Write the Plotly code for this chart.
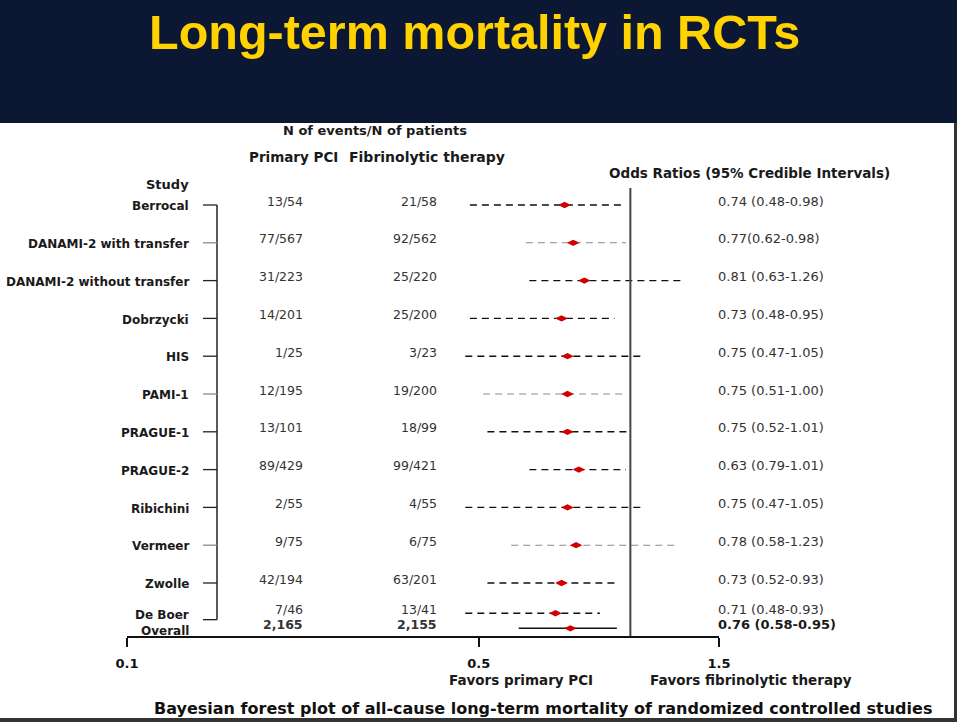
import math
import plotly.graph_objects as go

# ---------------- data ----------------
studies = ["Berrocal", "DANAMI-2 with transfer", "DANAMI-2 without transfer", "Dobrzycki",
           "HIS", "PAMI-1", "PRAGUE-1", "PRAGUE-2", "Ribichini", "Vermeer", "Zwolle",
           "De Boer", "Overall"]
pci_events = ["13/54", "77/567", "31/223", "14/201", "1/25", "12/195", "13/101", "89/429",
              "2/55", "9/75", "42/194", "7/46", "2,165"]
fib_events = ["21/58", "92/562", "25/220", "25/200", "3/23", "19/200", "18/99", "99/421",
              "4/55", "6/75", "63/201", "13/41", "2,155"]
or_point = [0.74, 0.77, 0.81, 0.73, 0.75, 0.75, 0.75, 0.79, 0.75, 0.78, 0.73, 0.71, 0.76]
or_lower = [0.48, 0.62, 0.63, 0.48, 0.47, 0.51, 0.52, 0.63, 0.47, 0.58, 0.52, 0.47, 0.60]
or_upper = [0.98, 0.98, 1.26, 0.93, 1.07, 0.98, 1.00, 0.98, 1.07, 1.23, 0.93, 0.87, 0.94]
or_labels = ["0.74 (0.48-0.98)", "0.77(0.62-0.98)", "0.81 (0.63-1.26)", "0.73 (0.48-0.95)",
             "0.75 (0.47-1.05)", "0.75 (0.51-1.00)", "0.75 (0.52-1.01)", "0.63 (0.79-1.01)",
             "0.75 (0.47-1.05)", "0.78 (0.58-1.23)", "0.73 (0.52-0.93)", "0.71 (0.48-0.93)",
             "0.76 (0.58-0.95)"]
tick_vals = [0.1, 0.5, 1.5]
tick_text = ["0.1", "0.5", "1.5"]

# ---------------- layout helpers ----------------
W, H = 957, 722
ROW0, ROWH = 205.0, 37.8
def px(x):
    return x / W
def py(y):
    return 1 - y / H
def row_of(ypix):
    return (ypix - ROW0) / ROWH

n_std = 12
rows = list(range(11)) + [10.8, 11.2]
label_rows = [r + 0.03 for r in range(11)] + [10.84, 11.27]
gray_rows = {1, 5, 9}
FONT = "DejaVu Sans"
TXT = "#1a1a1a"
NUM = "#333333"

fig = go.Figure()

# CI lines
for i in range(len(studies)):
    if i == len(studies) - 1:
        line = dict(color="#111111", width=1.5, dash="solid")
    elif i in gray_rows:
        line = dict(color="#8a8a8a", width=1.1, dash="7px,5px")
    else:
        line = dict(color="#111111", width=1.4, dash="7px,5px")
    fig.add_trace(go.Scatter(x=[or_lower[i], or_upper[i]], y=[rows[i], rows[i]],
                             mode="lines", line=line, hoverinfo="skip", showlegend=False))

# reference line at OR = 1
fig.add_trace(go.Scatter(x=[1, 1], y=[row_of(188), row_of(637)], mode="lines",
                         line=dict(color="#444444", width=2), hoverinfo="skip",
                         showlegend=False))

# point estimates
fig.add_trace(go.Scatter(x=or_point, y=rows, mode="markers",
                         marker=dict(symbol="diamond-wide", size=9, color="#d10000",
                                     line=dict(width=0)),
                         hovertext=studies, showlegend=False))

shapes = []
# navy title band
shapes.append(dict(type="rect", xref="paper", yref="paper", x0=0, x1=1, y0=py(123), y1=1,
                   fillcolor="#0b1733", line=dict(width=0), layer="below"))
# bottom / right borders
shapes.append(dict(type="rect", xref="paper", yref="paper", x0=0, x1=1, y0=0, y1=py(718),
                   fillcolor="#333333", line=dict(width=0)))
shapes.append(dict(type="rect", xref="paper", yref="paper", x0=px(954), x1=1, y0=0, y1=py(123),
                   fillcolor="#333333", line=dict(width=0)))
# study bracket
shapes.append(dict(type="line", xref="paper", yref="y", x0=px(217), x1=px(217),
                   y0=rows[0], y1=10.97, line=dict(color="#222222", width=1.5)))
for i in range(n_std):
    yy = 10.97 if i == n_std - 1 else rows[i]
    col = "#8a8a8a" if i in gray_rows else "#222222"
    shapes.append(dict(type="line", xref="paper", yref="y", x0=px(203), x1=px(217),
                       y0=yy, y1=yy, line=dict(color=col, width=1.3)))

ann = []
def A(text, x, y, size, color=TXT, xanchor="center", yref="paper", yshift=0, family=FONT):
    ann.append(dict(text=text, x=x, y=y, xref="paper", yref=yref, showarrow=False,
                    xanchor=xanchor, yanchor="middle", yshift=yshift,
                    font=dict(family=family, size=size, color=color)))

A("<b>Long-term mortality in RCTs</b>", px(474), py(32), 48.5, color="#FFD200",
  family="Liberation Sans")
A("<b>N of events/N of patients</b>", px(375), py(131), 13)
A("<b>Primary PCI</b>", px(293), py(157), 13.5)
A("<b>Fibrinolytic therapy</b>", px(427), py(157), 14)
A("<b>Study</b>", px(191), py(184), 13, xanchor="right")
A("<b>Odds Ratios (95% Credible Intervals)</b>", px(749), py(173), 13.5)

for i, s in enumerate(studies):
    A("<b>%s</b>" % s, px(191), label_rows[i], 12, xanchor="right", yref="y")
    bold = i == len(studies) - 1
    fmt = "<b>%s</b>" if bold else "%s"
    A(fmt % pci_events[i], px(305), rows[i], 12.5, color=NUM, xanchor="right", yref="y",
      yshift=4)
    A(fmt % fib_events[i], px(439), rows[i], 12.5, color=NUM, xanchor="right", yref="y",
      yshift=4)
    A(fmt % or_labels[i], px(716), rows[i], 13, color=TXT if bold else NUM,
      xanchor="left", yref="y", yshift=4)

A("<b>Favors primary PCI</b>", px(521), py(680), 13.5)
A("<b>Favors fibrinolytic therapy</b>", px(751), py(680), 13.5)
A("<b>Bayesian forest plot of all-cause long-term mortality of randomized controlled studies</b>",
  px(543), py(708), 16, color="#111111")

fig.update_layout(
    width=W, height=H, margin=dict(l=0, r=0, t=0, b=0, autoexpand=False),
    paper_bgcolor="white", plot_bgcolor="rgba(0,0,0,0)",
    shapes=shapes, annotations=ann, showlegend=False,
    xaxis=dict(type="log", range=[-1, math.log10(1.5)], domain=[px(127), px(719)],
               anchor="free", position=py(637), showline=True, linecolor="#111111",
               linewidth=1.5, ticks="outside", ticklen=9, tickwidth=1.5, tickcolor="#111111",
               tickvals=tick_vals, ticktext=["<b>%s</b>" % t for t in tick_text],
               tickfont=dict(family=FONT, size=13, color="#111111"), automargin=False,
               ticklabelstandoff=6, showgrid=False, zeroline=False, fixedrange=True),
    yaxis=dict(range=[row_of(H), row_of(0)], domain=[0, 1], visible=False, automargin=False,
               showgrid=False, zeroline=False, fixedrange=True),
)

fig.write_html("out.html")
